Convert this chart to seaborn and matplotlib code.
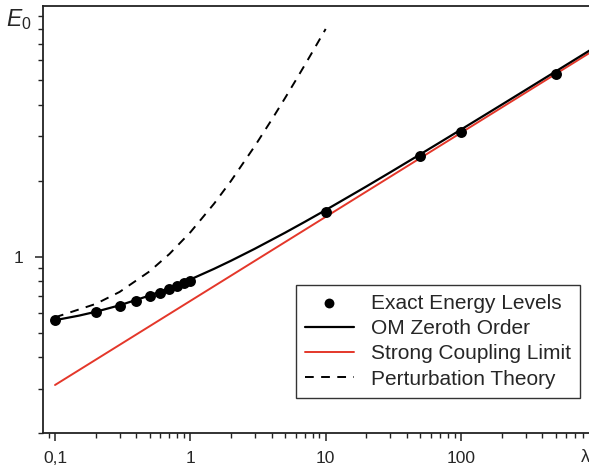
import numpy as np
import pandas as pd
import matplotlib
matplotlib.use("Agg")
import matplotlib.pyplot as plt
import matplotlib.ticker as mticker
import seaborn as sns

# --- data ---
exact_lam = [0.1, 0.2, 0.3, 0.4, 0.5, 0.6, 0.7, 0.8, 0.9, 1.0, 10, 50, 100, 500]
exact_E = [0.5591, 0.6024, 0.6380, 0.6688, 0.6962, 0.7210, 0.7439, 0.7651,
           0.7850, 0.8038, 1.5050, 2.4997, 3.1314, 5.3199]

om_lam = [0.1, 0.15, 0.2, 0.3, 0.5, 0.7, 1.0, 1.5, 2, 3, 5, 7, 10, 20, 30,
          50, 70, 100, 150, 200, 300, 500, 900]
om_E = [0.5603, 0.5839, 0.6050, 0.6417, 0.7018, 0.7508, 0.8125, 0.8958,
        0.9644, 1.0760, 1.2443, 1.3745, 1.5313, 1.9000, 2.1615, 2.5477,
        2.8419, 3.1926, 3.6467, 4.0085, 4.5823, 5.4258, 6.5930]

sc_lam = [0.1, 1, 10, 100, 900]
sc_E = [0.3100, 0.6680, 1.4391, 3.1004, 6.4490]

pt_lam = [0.1, 0.2, 0.3, 0.5, 0.7, 1, 1.5, 2, 3, 4, 5, 6, 7, 8, 10]
pt_E = [0.575, 0.65, 0.725, 0.875, 1.025, 1.25, 1.625, 2.0, 2.75, 3.5,
        4.25, 5.0, 5.75, 6.5, 8.0]

xtick_vals = [0.1, 1, 10, 100]
xtick_labels = ["0,1", "1", "10", "100"]
ytick_vals = [1]
ytick_labels = ["1"]

# --- style ---
sns.set_style("white")
plt.rcParams["font.family"] = ["Liberation Sans", "DejaVu Sans"]
plt.rcParams["mathtext.fontset"] = "custom"
plt.rcParams["mathtext.rm"] = "Liberation Sans"
plt.rcParams["mathtext.it"] = "Liberation Sans:italic"

red = "#E4372A"

fig = plt.figure(figsize=(5.89, 4.67), dpi=100)
ax = fig.add_axes([0.0725, 0.0728, 0.9275, 0.9137])

df_ex = pd.DataFrame({"lam": exact_lam, "E": exact_E})
df_om = pd.DataFrame({"lam": om_lam, "E": om_E})
df_sc = pd.DataFrame({"lam": sc_lam, "E": sc_E})
df_pt = pd.DataFrame({"lam": pt_lam, "E": pt_E})

sns.lineplot(data=df_pt, x="lam", y="E", ax=ax, color="black", lw=1.4,
             estimator=None, sort=False, label="Perturbation Theory",
             dashes=False)
ax.lines[-1].set_dashes((4.5, 3.8))
sns.lineplot(data=df_sc, x="lam", y="E", ax=ax, color=red, lw=1.4,
             estimator=None, sort=False, label="Strong Coupling Limit")
sns.lineplot(data=df_om, x="lam", y="E", ax=ax, color="black", lw=1.6,
             estimator=None, sort=False, label="OM Zeroth Order")
sns.scatterplot(data=df_ex, x="lam", y="E", ax=ax, color="black", s=62,
                edgecolor="black", linewidth=0, zorder=5,
                label="Exact Energy Levels")

ax.set_xscale("log")
ax.set_yscale("log")
ax.set_xlim(0.0811, 883)
ax.set_ylim(0.2, 9.84)

ax.xaxis.set_major_locator(mticker.FixedLocator(xtick_vals))
ax.xaxis.set_major_formatter(mticker.FixedFormatter(xtick_labels))
ax.xaxis.set_minor_locator(mticker.LogLocator(base=10, subs=np.arange(2, 10)))
ax.xaxis.set_minor_formatter(mticker.NullFormatter())
ax.yaxis.set_major_locator(mticker.FixedLocator(ytick_vals))
ax.yaxis.set_major_formatter(mticker.FixedFormatter(ytick_labels))
ax.yaxis.set_minor_locator(mticker.LogLocator(base=10, subs=np.arange(2, 10)))
ax.yaxis.set_minor_formatter(mticker.NullFormatter())

ax.tick_params(which="major", direction="out", length=6, width=1.1,
               labelsize=12.5, color="#222222", bottom=True, left=True, pad=7)
ax.tick_params(which="minor", direction="out", length=3.5, width=1.0,
               color="#222222", bottom=True, left=True)
ax.tick_params(axis="y", which="major", pad=8)

for side in ["left", "bottom", "top"]:
    ax.spines[side].set_visible(True)
    ax.spines[side].set_linewidth(1.3)
    ax.spines[side].set_color("#222222")
ax.spines["right"].set_visible(False)

ax.set_xlabel("")
ax.set_ylabel("")

fig.text(6 / 589, 1 - 20 / 467, r"$E_0$", fontsize=16.5, ha="left", va="center")
fig.text(585 / 589, 1 - 458 / 467, "λ", fontsize=13, ha="center", va="center")

handles, labels = ax.get_legend_handles_labels()
order = ["Exact Energy Levels", "OM Zeroth Order", "Strong Coupling Limit",
         "Perturbation Theory"]
hmap = dict(zip(labels, handles))
leg = ax.legend([hmap[k] for k in order], order, loc="lower right",
                bbox_to_anchor=(0.9835, 0.082), borderaxespad=0,
                fontsize=15, frameon=True, fancybox=False, shadow=False,
                framealpha=1, edgecolor="#333333", handlelength=2.35,
                labelspacing=0.3, handletextpad=0.8, borderpad=0.45,
                markerscale=0.9)
leg.get_frame().set_linewidth(1.0)

fig.savefig("out.png", dpi=100)
